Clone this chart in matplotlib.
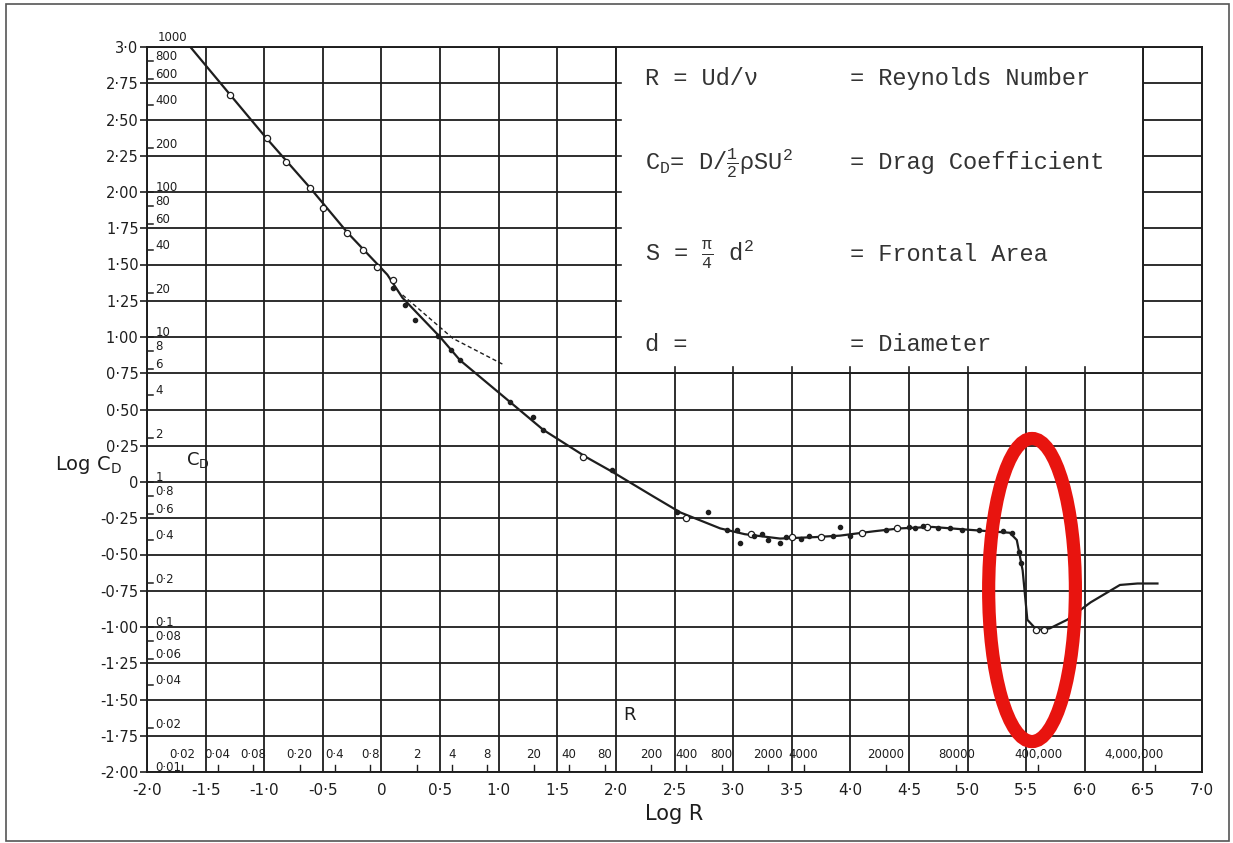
import numpy as np
import matplotlib.pyplot as plt
from matplotlib.patches import Ellipse, Rectangle

plt.rcParams['font.family'] = ['DejaVu Sans']
plt.rcParams['mathtext.fontset'] = 'custom'
plt.rcParams['mathtext.rm'] = 'Liberation Mono'
plt.rcParams['mathtext.it'] = 'Liberation Mono'
plt.rcParams['mathtext.sf'] = 'DejaVu Sans'

# drag curve of a sphere (log R, log CD)
curve_log_r = [-1.63, -1.29, -0.98, -0.61, -0.29, 0.05, 0.18, 0.50, 0.67, 1.07, 1.38,
               1.75, 1.97, 2.32, 2.55, 2.89, 3.10, 3.40, 3.70, 3.91, 4.20, 4.42, 4.70,
               5.02, 5.36, 5.42, 5.47, 5.51, 5.59, 5.70, 5.85, 6.05, 6.30, 6.45, 6.62]
curve_log_cd = [3.00, 2.67, 2.37, 2.03, 1.72, 1.43, 1.27, 1.00, 0.84, 0.57, 0.36,
                0.17, 0.07, -0.10, -0.21, -0.32, -0.36, -0.39, -0.38, -0.37, -0.34, -0.32, -0.31,
                -0.33, -0.35, -0.40, -0.61, -0.95, -1.02, -1.01, -0.95, -0.83, -0.71, -0.70, -0.70]

# dashed (Oseen) branch
oseen_log_r = [0.18, 0.61, 1.04]
oseen_log_cd = [1.29, 0.99, 0.81]

# measured points
open_log_r = [-1.29, -0.98, -0.81, -0.61, -0.50, -0.29, -0.16, -0.04, 0.10, 1.72,
              2.60, 3.15, 3.50, 3.75, 4.10, 4.40, 4.65, 5.58, 5.65]
open_log_cd = [2.67, 2.37, 2.21, 2.03, 1.89, 1.72, 1.60, 1.48, 1.39, 0.17,
               -0.25, -0.36, -0.38, -0.38, -0.35, -0.32, -0.31, -1.02, -1.02]
dot_log_r = [0.10, 0.20, 0.29, 0.48, 0.59, 0.67, 1.10, 1.29, 1.38, 1.97, 2.52, 2.79,
             2.95, 3.03, 3.06, 3.18, 3.25, 3.30, 3.40, 3.45, 3.58, 3.65, 3.91, 3.85,
             4.00, 4.30, 4.50, 4.55, 4.62, 4.75, 4.85, 4.95, 5.10, 5.20, 5.30, 5.38,
             5.44, 5.46]
dot_log_cd = [1.34, 1.22, 1.12, 1.01, 0.91, 0.84, 0.55, 0.45, 0.36, 0.08, -0.21, -0.21,
              -0.33, -0.33, -0.42, -0.37, -0.36, -0.40, -0.42, -0.38, -0.39, -0.37, -0.31, -0.37,
              -0.37, -0.33, -0.31, -0.32, -0.30, -0.32, -0.32, -0.33, -0.33, -0.34, -0.34, -0.35,
              -0.48, -0.56]

cd_labels = ['1000', '800', '600', '400', '200', '100', '80', '60', '40', '20', '10',
             '8', '6', '4', '2', '1', '0·8', '0·6', '0·4', '0·2', '0·1', '0·08', '0·06',
             '0·04', '0·02', '0·01']
cd_values = [1000, 800, 600, 400, 200, 100, 80, 60, 40, 20, 10, 8, 6, 4, 2, 1,
             0.8, 0.6, 0.4, 0.2, 0.1, 0.08, 0.06, 0.04, 0.02, 0.01]

r_labels = ['0·02', '0·04', '0·08', '0·20', '0·4', '0·8', '2', '4', '8', '20', '40', '80',
            '200', '400', '800', '2000', '4000', '20000', '80000', '400,000', '4,000,000']
r_values = [0.02, 0.04, 0.08, 0.2, 0.4, 0.8, 2, 4, 8, 20, 40, 80, 200, 400, 800,
            2000, 4000, 20000, 80000, 400000, 4000000]

box_left = ['R = Ud/ν', r'C$_\mathrm{D}$= D/$\frac{1}{2}$ρSU$^2$', r'S = $\frac{π}{4}$ d$^2$', 'd =']
box_right = ['= Reynolds Number', '= Drag Coefficient', '= Frontal Area', '= Diameter']


def fmt(v, nd):
    if abs(v) < 1e-9:
        return '0'
    return ('%.' + str(nd) + 'f') % v


ink = '#1e1e1e'
fig = plt.figure(figsize=(12.33, 8.43), dpi=100)
ax = fig.add_axes([147 / 1233, 1 - 772 / 843, 1055 / 1233, 725 / 843])
ax.set_xlim(-2.0, 7.0)
ax.set_ylim(-2.0, 3.0)

xt = np.arange(-2.0, 7.01, 0.5)
yt = np.arange(-2.0, 3.01, 0.25)
ax.set_xticks(xt)
ax.set_yticks(yt)
ax.set_xticklabels([fmt(v, 1).replace('.', '·') for v in xt], fontsize=11, color=ink)
ax.set_yticklabels([('3·0' if v == 3 else fmt(v, 2).replace('.', '·')) for v in yt],
                   fontsize=10.5, color=ink)
ax.tick_params(axis='x', length=0, pad=8)
ax.tick_params(axis='y', length=5, width=1.2, pad=1, color=ink)
ax.grid(True, color=ink, lw=1.3, zorder=0)
for s in ax.spines.values():
    s.set_color(ink)
    s.set_linewidth(1.4)

# strip of CD values on the left
for lab, v in zip(cd_labels, cd_values):
    y = np.log10(v)
    if v == 1000:
        ax.text(-1.78, 3.02, lab, fontsize=8.5, color=ink, ha='center', va='bottom', clip_on=False)
        continue
    ax.plot([-2.0, -1.95], [y, y], color=ink, lw=1.1, zorder=2)
    ax.text(-1.93, y + 0.03, lab, fontsize=8.5, color=ink, ha='left', va='center', zorder=2)

# strip of R values along the bottom
for lab, v in zip(r_labels, r_values):
    x = np.log10(v)
    ax.plot([x, x], [-2.0, -1.95], color=ink, lw=1.0, zorder=2)
    ax.text(min(x, 6.42), -1.88, lab, fontsize=8.5, color=ink, ha='center', va='center', zorder=2)

# curve and measured points
ax.plot(curve_log_r, curve_log_cd, color=ink, lw=1.6, zorder=4, clip_on=True)
ax.plot(oseen_log_r, oseen_log_cd, color=ink, lw=1.0, ls=(0, (3, 2)), zorder=4)
ax.plot(open_log_r, open_log_cd, 'o', ms=4.5, mfc='white', mec=ink, mew=0.9, zorder=5)
ax.plot(dot_log_r, dot_log_cd, 'o', ms=3, color=ink, zorder=5)

# text box
ax.add_patch(Rectangle((2.0, 0.75), 4.5, 2.25, facecolor='white', edgecolor=ink, lw=1.4, zorder=3))
for x in np.arange(2.5, 6.01, 0.5):
    ax.plot([x, x], [0.75, 0.79], color=ink, lw=1.2, zorder=3.5)
for y in np.arange(1.0, 2.76, 0.25):
    ax.plot([2.0, 2.04], [y, y], color=ink, lw=1.2, zorder=3.5)
box_y = [2.786, 2.2, 1.566, 0.945]
for yl, l, r in zip(box_y, box_left, box_right):
    ax.text(2.25, yl, l, family='Liberation Mono', fontsize=17, color='#333333',
            ha='left', va='center', zorder=6)
    ax.text(4.0, yl, r, family='Liberation Mono', fontsize=17, color='#333333',
            ha='left', va='center', zorder=6)

# labels
ax.text(-2.5, 0.12, r'Log C$_\mathsf{D}$', fontsize=14, color=ink, ha='center', va='center', clip_on=False)
ax.text(-1.57, 0.15, r'C$_\mathsf{D}$', fontsize=13, color=ink, ha='center', va='center', zorder=2)
ax.text(2.12, -1.61, 'R', fontsize=13, color=ink, ha='center', va='center', zorder=2)
ax.set_xlabel('Log R', fontsize=15, color=ink, labelpad=4)

# red highlight
ax.add_patch(Ellipse((5.55, -0.745), 0.74, 2.09, fill=False, edgecolor='#e8140f', lw=9.5,
                     zorder=7, clip_on=False))

# scan frame
fig.patches.append(Rectangle((6 / 1233, 2 / 843), 1223 / 1233, 837 / 843, transform=fig.transFigure,
                             fill=False, edgecolor='#555555', lw=1.2))

fig.savefig('out.png', dpi=100)
